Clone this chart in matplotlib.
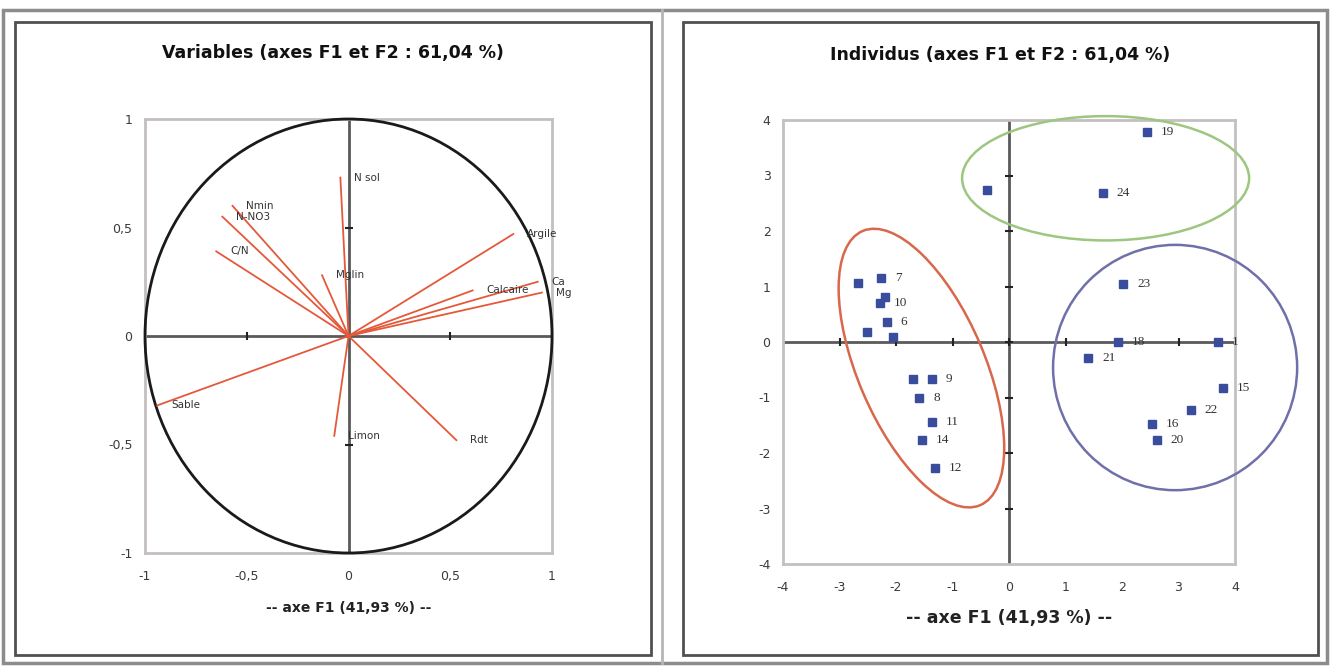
import matplotlib
matplotlib.use("Agg")
import matplotlib.pyplot as plt
from matplotlib.patches import Ellipse, Rectangle, Circle
import numpy as np

# ---------------- data ----------------
var_names = ["N sol", "Nmin", "N-NO3", "C/N", "Mglin", "Argile", "Calcaire", "Ca", "Mg",
             "Sable", "Limon", "Rdt"]
var_f1 = [-0.04, -0.57, -0.62, -0.65, -0.13, 0.81, 0.61, 0.93, 0.95, -0.94, -0.07, 0.53]
var_f2 = [0.73, 0.60, 0.55, 0.39, 0.28, 0.47, 0.21, 0.25, 0.20, -0.32, -0.46, -0.48]

ind_labels = ["19", "", "24", "23", "18", "21", "1", "15", "22", "16", "20",
              "", "7", "10", "", "6", "", "", "", "9", "8", "11", "14", "12"]
ind_f1 = [2.44, -0.39, 1.66, 2.02, 1.93, 1.40, 3.70, 3.79, 3.22, 2.53, 2.62,
          -2.67, -2.27, -2.28, -2.19, -2.16, -2.51, -2.05, -1.70, -1.36, -1.59, -1.36, -1.54, -1.31]
ind_f2 = [3.78, 2.74, 2.68, 1.05, 0.00, -0.29, 0.00, -0.83, -1.22, -1.48, -1.77,
          1.06, 1.15, 0.70, 0.81, 0.36, 0.18, 0.09, -0.67, -0.67, -1.01, -1.44, -1.77, -2.27]

# groups: (center x, center y, width, height, angle, colour)
groups_cx = [-1.55, 1.71, 2.94]
groups_cy = [-0.47, 2.95, -0.46]
groups_w = [5.36, 5.08, 4.32]
groups_h = [2.25, 2.24, 4.42]
groups_ang = [-67.3, 0.0, 0.0]
groups_col = ["#D8674B", "#9DC67F", "#6F70AA"]

left_ticks = [-1, -0.5, 0, 0.5, 1]
right_ticks = [-4, -3, -2, -1, 0, 1, 2, 3, 4]

title_left = "Variables (axes F1 et F2 : 61,04 %)"
title_right = "Individus (axes F1 et F2 : 61,04 %)"
xlab = "-- axe F1 (41,93 %) --"

W, H = 1330, 666
fig = plt.figure(figsize=(W / 100, H / 100), dpi=100)
fig.patch.set_facecolor("white")
plt.rcParams['font.family'] = ['DejaVu Sans']


def frect(x1, y1, x2, y2, **kw):
    r = Rectangle((x1 / W, 1 - y2 / H), (x2 - x1) / W, (y2 - y1) / H,
                  transform=fig.transFigure, fill=False, **kw)
    fig.add_artist(r)


# outer decoration
frect(3, 10, 1327, 663, edgecolor="#8c8c8c", lw=2.5)
fig.add_artist(plt.Line2D([662 / W, 662 / W], [1 - 663 / H, 1 - 10 / H],
                          transform=fig.transFigure, color="#b5b5b5", lw=2))
frect(15, 22, 651, 655, edgecolor="#505050", lw=2)
frect(683, 22, 1318, 655, edgecolor="#505050", lw=2)


def fmt(v):
    return ("%g" % v).replace(".", ",")


def style_axes(ax, ticks, cross_ticks):
    ax.set_xlim(ticks[0], ticks[-1])
    ax.set_ylim(ticks[0], ticks[-1])
    for s in ax.spines.values():
        s.set_color("#c4c0c0")
        s.set_linewidth(2)
    ax.set_xticks(ticks)
    ax.set_yticks(ticks)
    ax.set_xticklabels([fmt(t) for t in ticks])
    ax.set_yticklabels([fmt(t) for t in ticks])
    ax.tick_params(length=0, labelsize=9, colors="#3a3a3a", pad=12)
    ax.tick_params(axis="y", pad=9)
    ax.axhline(0, color="#5a5a5a", lw=2, zorder=2)
    ax.axvline(0, color="#5a5a5a", lw=2, zorder=2)
    ct = np.array(cross_ticks)
    ax.plot(ct, np.zeros_like(ct), ls="none", marker="|", ms=6, mew=1.5, color="#222222", zorder=3)
    ax.plot(np.zeros_like(ct), ct, ls="none", marker="_", ms=6, mew=1.5, color="#222222", zorder=3)


# ---------------- left: variables ----------------
axL = fig.add_axes([145 / W, 1 - 553 / H, 407 / W, 434 / H])
style_axes(axL, left_ticks, [-0.5, 0.5])
axL.add_patch(Circle((0, 0), 1, fill=False, edgecolor="#1a1a1a", lw=2, zorder=4, clip_on=False))
for name, x, y in zip(var_names, var_f1, var_f2):
    axL.plot([0, x], [0, y], color="#E4593A", lw=1.3, zorder=5)
    axL.annotate(name, (x, y), xytext=(10, 0), textcoords="offset points",
                 ha="left", va="center", fontsize=7.5, color="#333333", zorder=6)
axL.set_xlabel(xlab, fontsize=10, fontweight="bold", labelpad=13, color="#222222")
fig.text(333 / W, 1 - 53 / H, title_left, ha="center", va="center",
         fontsize=12.5, fontweight="bold", color="#111111")

# ---------------- right: individuals ----------------
axR = fig.add_axes([783 / W, 1 - 564 / H, 452 / W, 444 / H])
style_axes(axR, right_ticks, right_ticks[1:-1])
for cx, cy, w, h, a, c in zip(groups_cx, groups_cy, groups_w, groups_h, groups_ang, groups_col):
    axR.add_patch(Ellipse((cx, cy), w, h, angle=a, fill=False, edgecolor=c, lw=1.8,
                          zorder=4, clip_on=False))
axR.plot(ind_f1, ind_f2, ls="none", marker="s", ms=5.5, color="#3A4C9C", zorder=6)
for lab, x, y in zip(ind_labels, ind_f1, ind_f2):
    if lab:
        axR.annotate(lab, (x, y), xytext=(10, 0), textcoords="offset points",
                     ha="left", va="center", fontsize=9.5, color="#333333",
                     family=["Liberation Serif", "DejaVu Serif"], zorder=7)
axR.set_xlabel(xlab, fontsize=12.5, fontweight="bold", labelpad=11, color="#222222")
fig.text(1000 / W, 1 - 55 / H, title_right, ha="center", va="center",
         fontsize=12.5, fontweight="bold", color="#111111")

fig.savefig("out.png", dpi=100)
